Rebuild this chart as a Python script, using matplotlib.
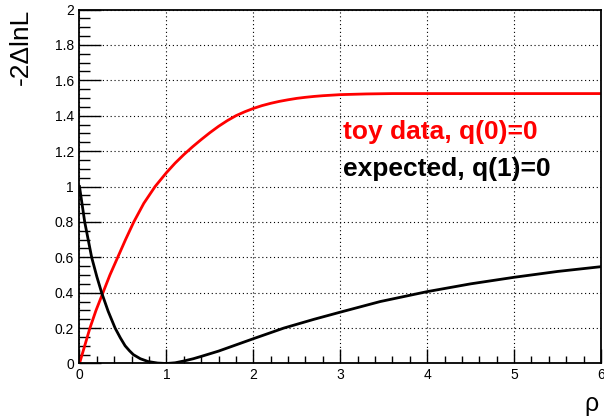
import numpy as np
import matplotlib
matplotlib.use('Agg')
import matplotlib.pyplot as plt
from matplotlib.ticker import MultipleLocator, FormatStrFormatter

plt.rcParams['font.family'] = ['Liberation Sans', 'DejaVu Sans']

# toy data curve, q(0)=0
rho_toy = [0, 0.06, 0.12, 0.19, 0.27, 0.35, 0.44, 0.53, 0.625, 0.74, 0.87, 1.0, 1.1, 1.2,
           1.3, 1.4, 1.5, 1.6, 1.7, 1.8, 1.9, 2.0, 2.1, 2.2, 2.3, 2.4, 2.5, 2.6, 2.7,
           2.8, 2.9, 3.0, 3.15, 3.3, 3.45, 3.6, 4.0, 5.0, 6.0]
q_toy = [0, 0.1, 0.2, 0.3, 0.4, 0.5, 0.6, 0.7, 0.8, 0.905, 1.0, 1.078, 1.132, 1.18,
         1.224, 1.265, 1.304, 1.34, 1.372, 1.40, 1.422, 1.441, 1.457, 1.47, 1.481, 1.49,
         1.498, 1.504, 1.509, 1.513, 1.516, 1.519, 1.521, 1.523, 1.524, 1.525, 1.525,
         1.525, 1.525]

# expected curve, q(1)=0
rho_exp = [0, 0.06, 0.14, 0.2, 0.255, 0.33, 0.41, 0.47, 0.525, 0.575, 0.62, 0.7, 0.79,
           0.9, 1.0, 1.1, 1.2, 1.31, 1.4, 1.6, 1.8, 2.0, 2.35, 2.7, 3.0, 3.46, 4.0,
           4.5, 5.0, 5.5, 6.0]
q_exp = [1.0, 0.8, 0.6, 0.49, 0.4, 0.295, 0.2, 0.145, 0.1, 0.072, 0.05, 0.027, 0.011,
         0.0025, 0, 0.004, 0.014, 0.027, 0.04, 0.07, 0.105, 0.14, 0.2, 0.25, 0.29, 0.35,
         0.406, 0.45, 0.487, 0.52, 0.547]

fig = plt.figure(figsize=(6.04, 4.17), dpi=100)
ax = fig.add_axes([0.1316, 0.1283, 0.8634, 0.8489])

ax.plot(rho_toy, q_toy, color='#ff0000', lw=2.0, solid_joinstyle='round')
ax.plot(rho_exp, q_exp, color='black', lw=2.0, solid_joinstyle='round')

ax.set_xlim(0, 6)
ax.set_ylim(0, 2)
ax.xaxis.set_major_locator(MultipleLocator(1))
ax.xaxis.set_minor_locator(MultipleLocator(0.2))
ax.yaxis.set_major_locator(MultipleLocator(0.2))
ax.yaxis.set_minor_locator(MultipleLocator(0.05))
ax.yaxis.set_major_formatter(FormatStrFormatter('%g'))

ax.tick_params(which='both', direction='in', top=False, right=False, labelsize=10)
ax.tick_params(axis='x', which='major', length=10, width=1, pad=3)
ax.tick_params(axis='x', which='minor', length=5, width=1)
ax.tick_params(axis='y', which='major', length=16, width=1, pad=4)
ax.tick_params(axis='y', which='minor', length=8, width=1)
for s in ax.spines.values():
    s.set_linewidth(1.3)

ax.grid(True, which='major', color='black', linestyle=(0, (1, 2.5)), linewidth=0.8)

# axis titles placed ROOT-style at the far ends
fig.text(21 / 604, 1 - 9 / 417, '-2\u0394lnL', fontsize=19, rotation=90,
         ha='center', va='top')
fig.text(598 / 604, 1 - 411 / 417, '\u03c1', fontsize=18, ha='right', va='baseline')

ax.text(3.03, 1.27, 'toy data, q(0)=0', color='#ff0000', fontsize=19, fontweight='bold',
        va='baseline')
ax.text(3.03, 1.06, 'expected, q(1)=0', color='black', fontsize=19, fontweight='bold',
        va='baseline')

fig.savefig('out.png', dpi=100)
